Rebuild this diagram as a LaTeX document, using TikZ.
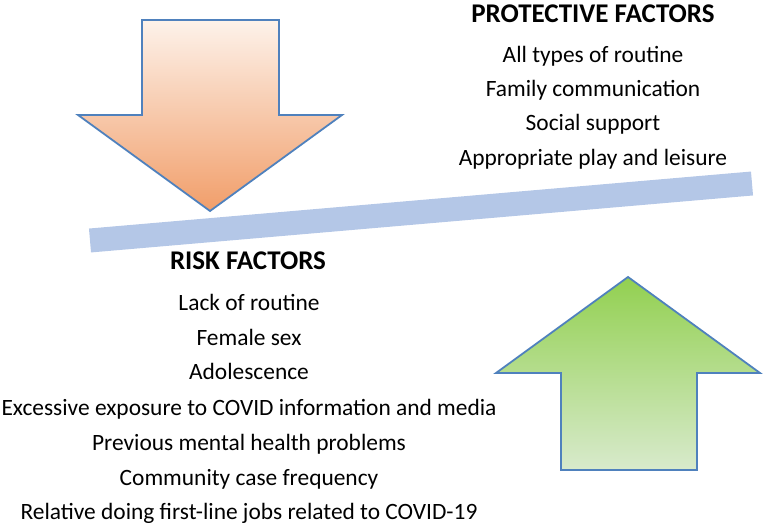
\documentclass[tikz,border=0pt]{standalone}
\usepackage{fontspec}
\setmainfont{Carlito}
\usepackage{tikz}

\definecolor{arrowline}{RGB}{79,129,189}
\definecolor{barblue}{RGB}{180,199,231}
\definecolor{orangetop}{RGB}{253,242,234}
\definecolor{orangebot}{RGB}{241,158,106}
\definecolor{greentop}{RGB}{146,208,80}
\definecolor{greenbot}{RGB}{216,234,204}

\begin{document}
\begin{tikzpicture}[x=1pt,y=-1pt]
	\tikzstyle{factor}=[anchor=base, inner sep=0pt, font=\fontsize{23.4}{28}\selectfont]
	\tikzstyle{heading}=[factor, font=\fontsize{27}{32}\selectfont\bfseries]
	\tikzstyle{bigarrow}=[draw=arrowline, line width=1.8pt, line join=miter]
	\useasboundingbox (0,0) rectangle (768,529);
	\coordinate (barleft) at (90,240.5);
	\coordinate (barright) at (752,183.5);
	\draw [barblue, line width=24pt] (barleft) -- (barright);
	\draw [bigarrow, top color=orangetop, bottom color=orangebot]
		(142,20) -- (279,20) -- (279,115) -- (342,115) -- (210,211) -- (78,115) -- (142,115) -- cycle;
	\draw [bigarrow, top color=greentop, bottom color=greenbot]
		(561,470) -- (561,373) -- (496,373) -- (628,277) -- (760,373) -- (697,373) -- (697,470) -- cycle;
	\node [heading] (protective) at (593,23) {PROTECTIVE FACTORS};
	\node [factor] (p1) at (593,63) {All types of routine};
	\node [factor] (p2) at (593,97) {Family communication};
	\node [factor] (p3) at (593,131) {Social support};
	\node [factor] (p4) at (593,166) {Appropriate play and leisure};
	\node [heading] (risk) at (248,270) {RISK FACTORS};
	\node [factor] (r1) at (249,310) {Lack of routine};
	\node [factor] (r2) at (249,345) {Female sex};
	\node [factor] (r3) at (249,379) {Adolescence};
	\node [factor] (r4) at (249,415) {Excessive exposure to COVID information and media};
	\node [factor] (r5) at (249,450) {Previous mental health problems};
	\node [factor] (r6) at (249,485) {Community case frequency};
	\node [factor] (r7) at (249,519) {Relative doing first-line jobs related to COVID-19};
\end{tikzpicture}
\end{document}
